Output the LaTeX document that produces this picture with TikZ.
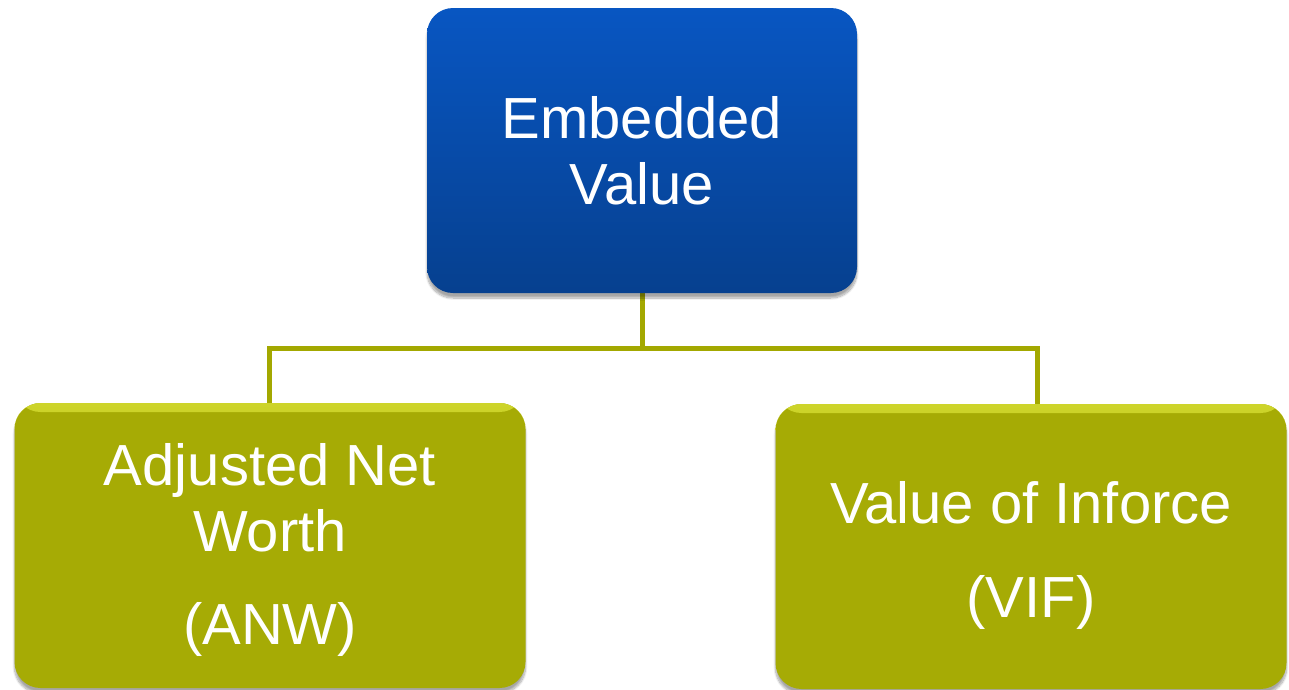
\documentclass[tikz,border=0pt]{standalone}
\usepackage{fontspec}
\setmainfont{Liberation Sans}
\usepackage{xcolor}
\usepackage{tikz}
\usetikzlibrary{positioning, calc, shadows.blur}

\definecolor{evtop}{HTML}{0856C2}
\definecolor{evbottom}{HTML}{06408F}
\definecolor{partfill}{HTML}{A6AB05}
\definecolor{parthi}{HTML}{CDD42A}
\definecolor{linkcol}{HTML}{A3A800}

\begin{document}
\begin{tikzpicture}[x=1pt, y=-1pt,
        box/.style={rectangle, rounded corners=26pt, inner sep=0pt,
            minimum height=285pt, text=white, align=center,
            font=\fontsize{58}{66}\selectfont,
            blur shadow={shadow xshift=0pt, shadow yshift=-5pt,
                shadow blur steps=10, shadow opacity=35}},
        evbox/.style={box, top color=evtop, bottom color=evbottom,
            minimum width=430pt},
        partbox/.style={box, fill=partfill, minimum width=511pt,
            path picture={
                \shade[top color=parthi, bottom color=partfill]
                    (path picture bounding box.north west) rectangle
                    ([yshift=-9pt]path picture bounding box.north east);
            }},
        link/.style={draw=linkcol, line width=5pt}
    ]
        \useasboundingbox (0,0) rectangle (1289,689);

        % connectors go first so the boxes sit on top of them
        \coordinate (evfoot) at (642,293);
        \coordinate (split) at (642,348);
        \coordinate (anwtop) at (269,405);
        \coordinate (viftop) at (1037,407);
        \draw[link] (evfoot) -- (split);
        \draw[link, line join=miter] (anwtop) |- (split) -| (viftop);

        \node[evbox] (ev) at (642,150.5) {Embedded\\Value};
        \node[partbox] (anw) at (270,545.5)
            {\rule{0pt}{50pt}Adjusted Net\\Worth\\[27pt](ANW)};
        \node[partbox] (vif) at (1031,546.5)
            {\rule{0pt}{59pt}Value of Inforce\\[28pt](VIF)};
    \end{tikzpicture}
\end{document}
